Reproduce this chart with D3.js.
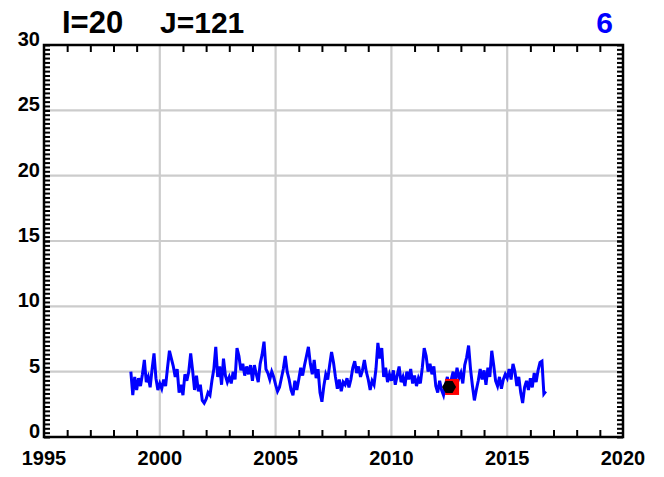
<!DOCTYPE html>
<html>
<head>
<meta charset="utf-8">
<script src="https://cdn.jsdelivr.net/npm/d3@7"></script>
<style>
  body { margin: 0; background: #fff; }
  svg { display: block; }
  text { font-family: "Liberation Sans", Arial, sans-serif; font-weight: bold; }
</style>
</head>
<body>
<svg width="664" height="477"></svg>
<script>
// monthly series, first value at startYear
var startYear = 1998.75
var stepYear = 1 / 12
var values = [
    5.0, 3.2, 4.6,
    3.6, 4.5, 3.9, 4.8, 5.9, 4.2, 4.6, 3.8, 5.2, 6.4, 4.5, 3.6,
    4.1, 3.7, 4.4, 3.9, 5.3, 6.6, 6.0, 5.4, 4.6, 5.2, 3.4, 4.0,
    3.2, 4.8, 4.3, 5.0, 6.4, 5.1, 3.6, 4.7, 3.5, 4.0, 2.8, 2.6,
    2.9, 3.4, 3.2, 4.3, 5.2, 6.9, 4.6, 5.4, 4.0, 6.0, 4.7, 4.2,
    4.6, 4.1, 5.0, 4.4, 6.8, 6.2, 5.1, 5.6, 4.7, 5.4, 4.8, 5.5,
    4.3, 5.5, 4.8, 4.2, 5.6, 6.3, 7.3, 5.2, 4.9, 4.4, 5.0, 4.6,
    4.0, 3.5, 3.8, 4.5, 5.2, 6.2, 5.0, 4.4, 3.6, 3.2, 4.3, 3.6,
    4.4, 5.3, 4.7, 5.5, 6.2, 6.9, 5.6, 4.8, 5.9, 4.5, 5.2, 3.4,
    2.7, 3.9, 4.8, 4.4, 5.5, 6.5, 5.7, 4.6, 3.7, 4.4, 3.5, 4.2,
    4.0, 4.5, 3.8, 4.4, 5.3, 5.8, 4.9, 5.4, 4.6, 5.1, 5.9, 5.0,
    4.4, 3.6, 4.3, 4.0, 5.2, 7.2, 6.0, 6.8, 4.6, 5.3, 4.2, 4.8,
    4.3, 5.1, 4.0, 4.7, 5.4, 4.2, 4.6, 3.9, 5.0, 4.4, 5.2, 4.1,
    4.7, 3.9, 4.5, 4.1, 5.3, 6.8, 6.2, 5.0, 5.6, 4.8, 5.4, 3.9,
    3.4, 4.3, 3.6, 3.2, 4.0, 4.6, 3.5, 4.4, 5.0, 4.2, 5.3, 4.5,
    4.9, 4.1, 5.5, 6.1, 7.0, 5.2, 3.9, 2.8, 3.6, 4.3, 5.2, 4.4,
    5.1, 4.0, 5.3, 4.6, 6.6, 5.5, 4.3, 3.9, 4.6, 3.7, 4.4, 4.8,
    4.5, 5.2, 4.4, 5.6, 5.0, 3.9, 4.6, 3.4, 2.6, 3.8, 4.3, 3.6,
    4.5, 3.8, 4.9, 4.2, 5.1, 5.7, 5.8, 3.3, 3.5
]
var hexPoint = [{ year: 2012.49, value: 3.83 }]
var squarePoint = [{ year: 2012.62, value: 3.83 }]

var xTicks = [1995, 2000, 2005, 2010, 2015, 2020]
var yTicks = [0, 5, 10, 15, 20, 25, 30]
var titleI = "I=20"
var titleJ = "J=121"
var titleNum = "6"

function draw() {
    var svg = d3.select("svg")
    var pxL = 44, pxR = 623, pxT = 45, pxB = 437

    var scX = d3.scaleLinear().domain([1995, 2020]).range([pxL, pxR])
    var scY = d3.scaleLinear().domain([0, 30]).range([pxB, pxT])

    var data = values.map((v, i) => ({ year: startYear + i * stepYear, value: v }))

    // grid
    var grid = svg.append("g").attr("stroke", "#cccccc").attr("stroke-width", 2.2)
    grid.selectAll("line.gx").data(xTicks.slice(1, -1)).enter().append("line")
        .attr("x1", d => scX(d)).attr("x2", d => scX(d))
        .attr("y1", pxT).attr("y2", pxB)
    grid.selectAll("line.gy").data(yTicks.slice(1, -1)).enter().append("line")
        .attr("y1", d => scY(d)).attr("y2", d => scY(d))
        .attr("x1", pxL).attr("x2", pxR)

    // minor ticks
    var minorX = d3.range(1996, 2020).filter(d => d % 5 != 0)
    var minorY = d3.range(1, 90).map(d => d / 3)

    svg.append("g").attr("transform", `translate(0,${pxB})`)
        .call(d3.axisTop(scX).tickValues(minorX).tickSize(7).tickFormat(""))
    svg.append("g").attr("transform", `translate(0,${pxT})`)
        .call(d3.axisBottom(scX).tickValues(minorX).tickSize(7).tickFormat(""))
    svg.append("g").attr("transform", `translate(${pxL},0)`)
        .call(d3.axisRight(scY).tickValues(minorY.concat(yTicks)).tickSize(6).tickFormat(""))
    svg.append("g").attr("transform", `translate(${pxR},0)`)
        .call(d3.axisLeft(scY).tickValues(minorY.concat(yTicks)).tickSize(6).tickFormat(""))

    svg.selectAll(".domain").remove()
    svg.selectAll(".tick line").attr("stroke", "#000").attr("stroke-width", 2)

    // data line
    var lineMaker = d3.line()
        .x(d => scX(d.year))
        .y(d => scY(d.value))

    svg.append("path")
        .attr("fill", "none").attr("stroke", "#0000ff")
        .attr("stroke-width", 3).attr("stroke-linejoin", "miter")
        .attr("d", lineMaker(data))

    // markers
    svg.selectAll("rect.sq").data(squarePoint).enter().append("rect")
        .attr("x", d => scX(d.year) - 7).attr("y", d => scY(d.value) - 8)
        .attr("width", 14).attr("height", 16)
        .attr("fill", "#ff0000")

    var hex = d3.range(6).map(k => [7 * Math.cos(k * Math.PI / 3), 7 * Math.sin(k * Math.PI / 3)])
    svg.selectAll("path.hex").data(hexPoint).enter().append("path")
        .attr("transform", d => `translate(${scX(d.year)},${scY(d.value)})`)
        .attr("d", "M" + hex.join("L") + "Z")
        .attr("fill", "#000")

    // frame
    svg.append("rect")
        .attr("x", pxL).attr("y", pxT)
        .attr("width", pxR - pxL).attr("height", pxB - pxT)
        .attr("fill", "none").attr("stroke", "#000").attr("stroke-width", 2.5)

    // labels
    svg.selectAll("text.xl").data(xTicks).enter().append("text")
        .attr("x", d => scX(d)).attr("y", 465)
        .attr("text-anchor", "middle").attr("font-size", 20)
        .text(d => d)

    svg.selectAll("text.yl").data(yTicks).enter().append("text")
        .attr("x", 40).attr("y", d => scY(d) + 1)
        .attr("text-anchor", "end").attr("font-size", 20)
        .text(d => d)

    svg.append("text").attr("x", 62).attr("y", 33).attr("font-size", 31).text(titleI)
    svg.append("text").attr("x", 160).attr("y", 33).attr("font-size", 30).text(titleJ)
    svg.append("text").attr("x", 613).attr("y", 33).attr("font-size", 30)
        .attr("text-anchor", "end").attr("fill", "#0000ff").text(titleNum)
}

draw()
</script>
</body>
</html>
